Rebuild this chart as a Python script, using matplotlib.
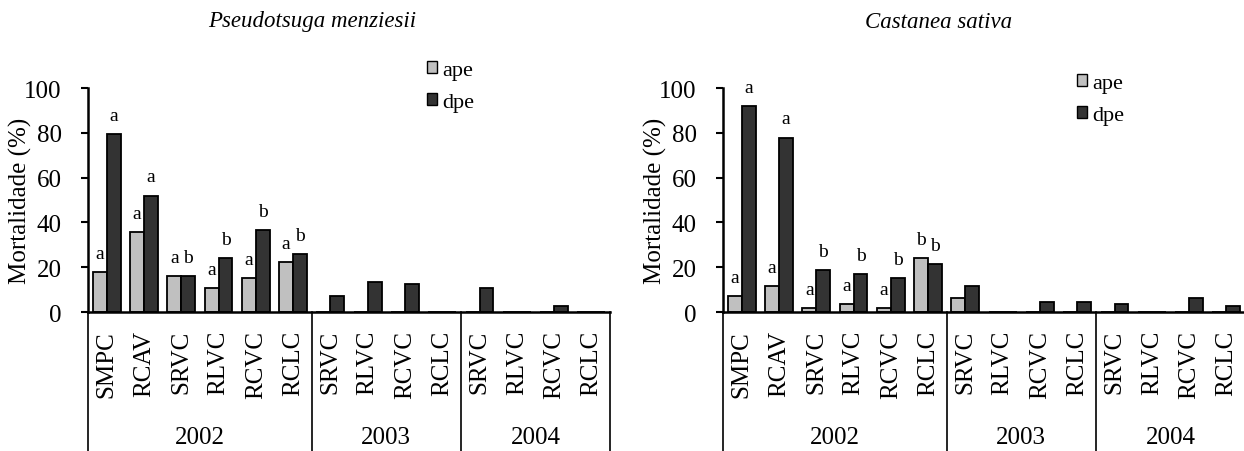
import matplotlib.pyplot as plt
import numpy as np
from matplotlib.transforms import blended_transform_factory
from matplotlib.patches import Patch

plt.rcParams['font.family'] = ['Liberation Serif', 'DejaVu Serif']

categories = ["SMPC", "RCAV", "SRVC", "RLVC", "RCVC", "RCLC",
              "SRVC", "RLVC", "RCVC", "RCLC",
              "SRVC", "RLVC", "RCVC", "RCLC"]
years = ["2002", "2003", "2004"]
year_sizes = [6, 4, 4]

# Pseudotsuga menziesii
pm_ape = [18, 35.8, 16, 10.7, 15.2, 22.4, 0, 0, 0, 0, 0, 0, 0, 0]
pm_dpe = [79.5, 52, 16, 24.2, 36.7, 25.8, 7.2, 13.4, 12.4, 0, 10.7, 0, 2.7, 0]
pm_ape_let = ["a", "a", "a", "a", "a", "a"]
pm_dpe_let = ["a", "a", "b", "b", "b", "b"]

# Castanea sativa
cs_ape = [7.2, 11.6, 1.9, 3.4, 1.9, 24, 6.3, 0, 0, 0, 0, 0, 0, 0]
cs_dpe = [92.1, 77.9, 18.8, 16.9, 15.1, 21.3, 11.5, 0, 4.5, 4.5, 3.4, 0, 6.3, 2.5]
cs_ape_let = ["a", "a", "a", "a", "a", "b"]
cs_dpe_let = ["a", "a", "b", "b", "b", "b"]

W, H = 1244, 452
fig = plt.figure(figsize=(W / 100, H / 100), dpi=100)

BW = 0.375
APE_C = "#c0c0c0"
DPE_C = "#333333"
FS = 18


def panel(left_px, title, title_x, ape, dpe, ape_let, dpe_let, leg_xy):
    ax = fig.add_axes([left_px / W, 1 - 313 / H, 522 / W, 224 / H])
    x = np.arange(len(categories))
    ax.bar(x - BW / 2, ape, BW, color=APE_C, edgecolor="black", linewidth=1.3)
    ax.bar(x + BW / 2, dpe, BW, color=DPE_C, edgecolor="black", linewidth=1.3)
    for i, t in enumerate(ape_let):
        ax.text(x[i] - BW / 2, ape[i] + 8.3, t, ha="center", va="center", fontsize=14)
    for i, t in enumerate(dpe_let):
        ax.text(x[i] + BW / 2, dpe[i] + 8.3, t, ha="center", va="center", fontsize=14)

    ax.set_xlim(-0.5, len(categories) - 0.5)
    ax.set_ylim(0, 100)
    ax.set_yticks(range(0, 101, 20))
    ax.tick_params(axis="y", direction="out", length=5, width=1.5, labelsize=FS, pad=14)
    ax.set_xticks(x)
    ax.set_xticklabels(categories, rotation=90, fontsize=FS, va="top")
    ax.tick_params(axis="x", length=0, pad=13)
    for s in ("top", "right"):
        ax.spines[s].set_visible(False)
    for s in ("left", "bottom"):
        ax.spines[s].set_linewidth(1.8)
    ax.set_ylabel("Mortalidade (%)", fontsize=FS)
    ax.yaxis.set_label_coords(-56 / 522, 0.5)

    # year grouping below the category labels
    tr = blended_transform_factory(ax.transData, ax.transAxes)
    edges = np.concatenate([[0], np.cumsum(year_sizes)]) - 0.5
    for e in edges:
        ax.plot([e, e], [0, -0.7], transform=tr, color="black", lw=1.2,
                clip_on=False)
    for k, yr in enumerate(years):
        ax.text((edges[k] + edges[k + 1]) / 2, -0.56, yr, transform=tr,
                ha="center", va="center", fontsize=FS)

    fig.text(title_x / W, 1 - 22 / H, title, ha="center", va="center",
             fontsize=16.5, style="italic")
    handles = [Patch(facecolor=APE_C, edgecolor="black", label="ape"),
               Patch(facecolor=DPE_C, edgecolor="black", label="dpe")]
    fig.legend(handles=handles, loc="upper left",
               bbox_to_anchor=(leg_xy[0] / W, 1 - leg_xy[1] / H),
               frameon=False, fontsize=16, handlelength=0.45, handleheight=0.45,
               handletextpad=0.25, labelspacing=0.6, borderpad=0, borderaxespad=0)
    return ax


panel(88, "Pseudotsuga menziesii", 312, pm_ape, pm_dpe, pm_ape_let, pm_dpe_let, (427, 62))
panel(723, "Castanea sativa", 939, cs_ape, cs_dpe, cs_ape_let, cs_dpe_let, (1077, 75))

fig.savefig("out.png", dpi=100)
